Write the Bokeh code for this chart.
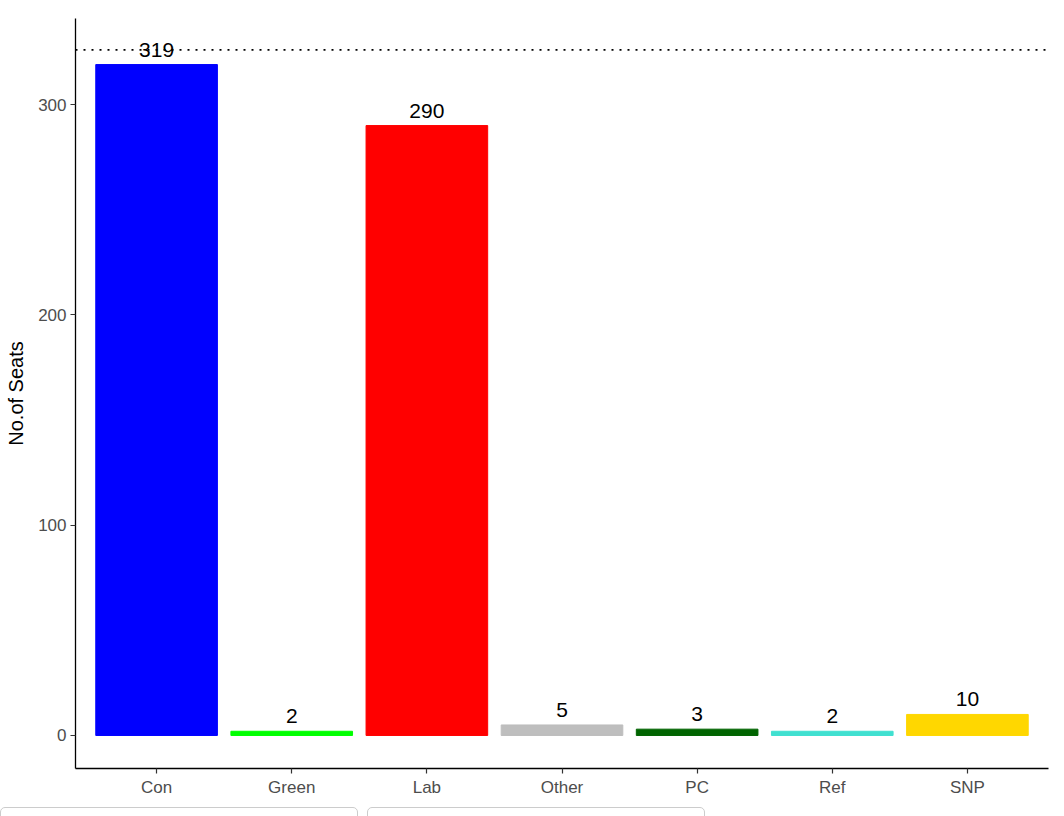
from bokeh.plotting import figure
from bokeh.models import Range1d, FixedTicker, ColumnDataSource, Span, Div, LabelSet
from bokeh.layouts import column
from bokeh.core.properties import value
from bokeh.embed import file_html
from bokeh.resources import INLINE

parties = ["Con", "Green", "Lab", "Other", "PC", "Ref", "SNP"]
seats = [319, 2, 290, 5, 3, 2, 10]
colors = ["#0000FF", "#00FF00", "#FF0000", "#BEBEBE", "#006400", "#40E0D0", "#FFD700"]
majority = 326
y_ticks = [0, 100, 200, 300]

FONT = "Liberation Sans"
xs = list(range(1, len(parties) + 1))
src = ColumnDataSource(dict(x=xs, top=seats, color=colors, label=[str(s) for s in seats]))

p = figure(width=1056, height=800, output_backend="svg", toolbar_location=None,
           x_range=Range1d(0.4, len(parties) + 0.6), y_range=Range1d(-15.7, 340.9),
           min_border_left=75, min_border_top=18, min_border_right=8, min_border_bottom=32)
p.vbar(x="x", top="top", bottom=0, width=0.9, color="color", source=src)
p.add_layout(LabelSet(x="x", y="top", text="label", source=src, text_align="center",
                      text_baseline="alphabetic", y_offset=8, text_font=value(FONT),
                      text_font_size="21px", text_color="black"))
p.add_layout(Span(location=majority, dimension="width", line_color="black",
                  line_dash="2 6", line_width=1.6))

p.grid.visible = False
p.outline_line_color = None
p.background_fill_color = "white"
p.border_fill_color = "white"

p.xaxis.ticker = FixedTicker(ticks=xs)
p.xaxis.major_label_overrides = {x: n for x, n in zip(xs, parties)}
p.yaxis.ticker = FixedTicker(ticks=y_ticks)
for ax in (p.xaxis[0], p.yaxis[0]):
    ax.axis_line_color = "black"
    ax.axis_line_width = 1.3
    ax.major_tick_line_color = "#333333"
    ax.major_tick_line_width = 1.2
    ax.major_tick_out = 5
    ax.major_tick_in = 0
    ax.minor_tick_line_color = None
    ax.major_label_text_font = FONT
    ax.major_label_text_font_size = "17px"
    ax.major_label_text_color = "#4D4D4D"
    ax.major_label_standoff = 4
yax = p.yaxis[0]
yax.axis_label = "No.of Seats"
yax.axis_label_text_font = FONT
yax.axis_label_text_font_size = "20px"
yax.axis_label_text_font_style = "normal"
yax.axis_label_text_color = "black"
yax.axis_label_standoff = 8

boxes = Div(width=1056, height=16, text=(
    '<div style="position:relative;width:1056px;height:16px;">'
    '<div style="position:absolute;left:-5px;top:2px;width:358px;height:30px;'
    'border:1.5px solid #CCCCCC;border-radius:5px;background:white;"></div>'
    '<div style="position:absolute;left:362px;top:2px;width:338px;height:30px;'
    'border:1.5px solid #CCCCCC;border-radius:5px;background:white;"></div>'
    '</div>'))

layout = column(p, boxes, spacing=0)
open("out.html", "w").write(file_html(layout, INLINE))
